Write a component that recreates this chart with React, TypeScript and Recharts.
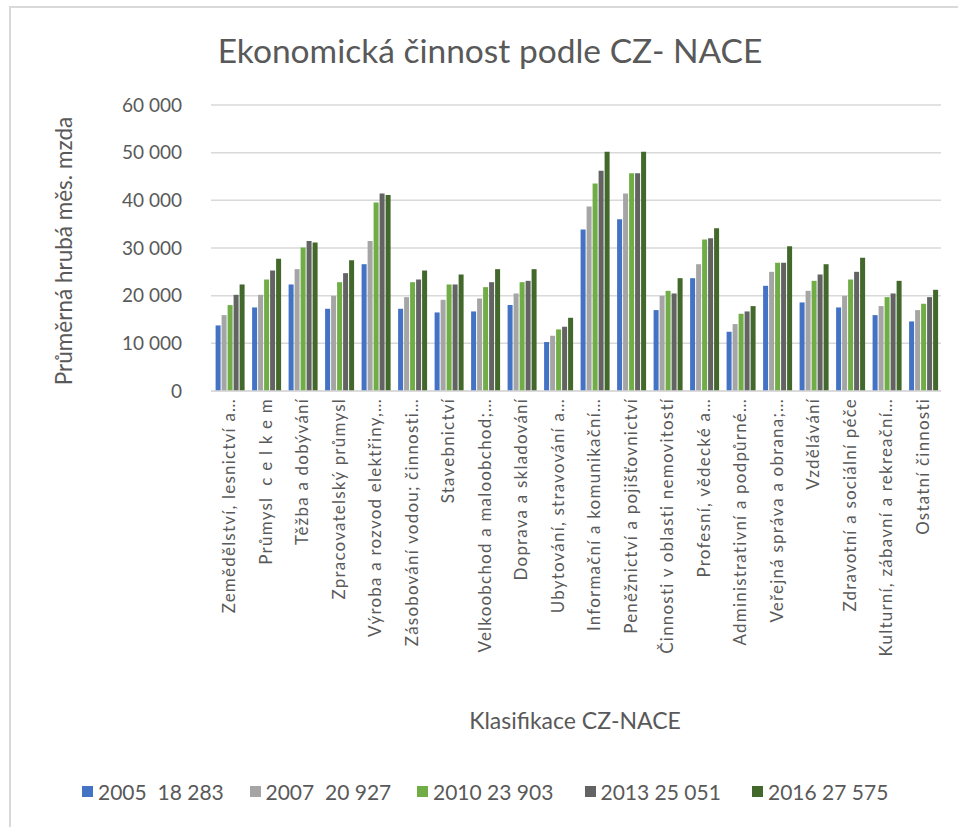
import { BarChart, Bar, XAxis, YAxis, CartesianGrid } from "recharts"

const categories = [
  "Zemědělství, lesnictví a…",
  "Průmysl  c e l k e m",
  "Těžba a dobývání",
  "Zpracovatelský průmysl",
  "Výroba a rozvod elektřiny,…",
  "Zásobování vodou; činnosti…",
  "Stavebnictví",
  "Velkoobchod a maloobchod;…",
  "Doprava a skladování",
  "Ubytování, stravování a…",
  "Informační a komunikační…",
  "Peněžnictví a pojišťovnictví",
  "Činnosti v oblasti nemovitostí",
  "Profesní, vědecké a…",
  "Administrativní a podpůrné…",
  "Veřejná správa a obrana;…",
  "Vzdělávání",
  "Zdravotní a sociální péče",
  "Kulturní, zábavní a rekreační…",
  "Ostatní činnosti",
]

const v2005 = [13760, 17530, 22350, 17250, 26600, 17250, 16480, 16690, 18020, 10270, 33870, 36030, 16970, 23670, 12430, 22070, 18580, 17530, 15920, 14600]
const v2007 = [15920, 20180, 25560, 19970, 31490, 19690, 19130, 19410, 20460, 11590, 38690, 41410, 19970, 26600, 14040, 25000, 21020, 19970, 17810, 16970]
const v2010 = [18020, 23390, 30100, 22830, 39530, 22830, 22350, 21790, 22830, 12920, 43510, 45670, 21020, 31770, 16200, 26890, 23110, 23390, 19690, 18300]
const v2013 = [20180, 25280, 31490, 24720, 41410, 23390, 22350, 22830, 23110, 13480, 46230, 45670, 20460, 32050, 16690, 26890, 24440, 25000, 20460, 19690]
const v2016 = [22350, 27720, 31150, 27440, 41130, 25280, 24440, 25560, 25560, 15360, 50210, 50210, 23670, 34150, 17810, 30380, 26600, 27930, 23110, 21230]

const seriesNames = ["2005  18 283", "2007  20 927", "2010 23 903", "2013 25 051", "2016 27 575"]
const seriesColors = ["#4472C4", "#A5A5A5", "#70AD47", "#636363", "#43682B"]
const seriesValues = [v2005, v2007, v2010, v2013, v2016]

const yTicks = [0, 10000, 20000, 30000, 40000, 50000, 60000]

const data = categories.map((name, i) => {
  const row: Record<string, string | number> = { name }
  seriesNames.forEach((s, k) => {
    row["s" + k] = seriesValues[k][i]
  })
  return row
})

const font = "Lato, 'Noto Sans', sans-serif"
const textColor = "#595959"

const fmt = (v: number) => String(v).replace(/\B(?=(\d{3})+(?!\d))/g, " ")

function CategoryTick(props: any) {
  const { x, y, payload } = props
  return (
    <text
      x={x}
      y={y}
      transform={`rotate(-90 ${x} ${y})`}
      textAnchor="end"
      dy="0.35em"
      fill={textColor}
      fontSize={17}
      fontFamily={font}
      letterSpacing={1.2}
      style={{ whiteSpace: "pre" }}
    >
      {payload.value}
    </text>
  )
}

export default function App() {
  return (
    <div style={{ position: "absolute", left: 0, top: 0, width: 958, height: 827, background: "#fff", fontFamily: font, color: textColor, overflow: "hidden" }}>
      <div style={{ position: "absolute", left: 9, top: 6, right: -10, bottom: -10, borderTop: "2px solid #D9D9D9", borderLeft: "2px solid #D9D9D9" }} />
      <BarChart
        width={958}
        height={827}
        data={data}
        margin={{ top: 105, right: 17, bottom: 0, left: 0 }}
        barCategoryGap={4.6}
        barGap={1}
      >
        <CartesianGrid vertical={false} stroke="#D9D9D9" strokeWidth={1.5} />
        <XAxis
          dataKey="name"
          interval={0}
          height={436}
          tickLine={false}
          tickSize={0}
          tickMargin={7}
          axisLine={{ stroke: "#D9D9D9", strokeWidth: 1.5 }}
          tick={<CategoryTick />}
        />
        <YAxis
          width={211}
          domain={[0, 60000]}
          ticks={yTicks}
          axisLine={false}
          tickLine={false}
          tickSize={0}
          tickMargin={29}
          tickFormatter={fmt}
          tick={{ fill: textColor, fontSize: 19, fontFamily: font }}
        />
        {seriesNames.map((s, k) => (
          <Bar key={s} dataKey={"s" + k} name={s} fill={seriesColors[k]} isAnimationActive={false} />
        ))}
      </BarChart>
      <div style={{ position: "absolute", left: 490, top: 50, transform: "translate(-50%, -50%)", fontSize: 33.5, whiteSpace: "nowrap" }}>
        Ekonomická činnost podle CZ- NACE
      </div>
      <div style={{ position: "absolute", left: 63, top: 251, transform: "translate(-50%, -50%) rotate(-90deg)", fontSize: 22.5, whiteSpace: "nowrap" }}>
        Průměrná hrubá měs. mzda
      </div>
      <div style={{ position: "absolute", left: 575, top: 720, transform: "translate(-50%, -50%)", fontSize: 23, whiteSpace: "nowrap" }}>
        Klasifikace CZ-NACE
      </div>
      <div style={{ position: "absolute", left: 82, top: 779, display: "flex", alignItems: "center", fontSize: 21 }}>
        {seriesNames.map((s, k) => (
          <div key={s} style={{ display: "flex", alignItems: "center", width: 167.5 }}>
            <span style={{ display: "inline-block", width: 11, height: 11, background: seriesColors[k], marginRight: 5 }} />
            <span style={{ whiteSpace: "pre" }}>{s}</span>
          </div>
        ))}
      </div>
    </div>
  )
}
